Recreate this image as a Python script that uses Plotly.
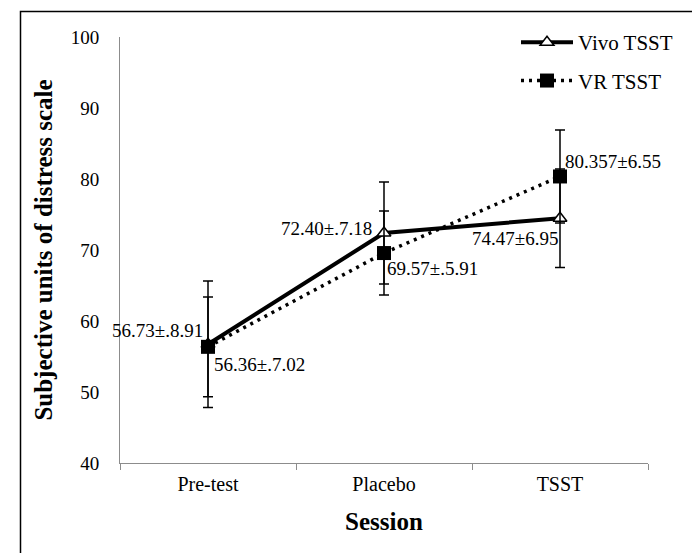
import plotly.graph_objects as go

# ---- data ----
sessions = ["Pre-test", "Placebo", "TSST"]
vivo_mean = [56.73, 72.40, 74.47]
vivo_sd = [8.91, 7.18, 6.95]
vr_mean = [56.36, 69.57, 80.357]
vr_sd = [7.02, 5.91, 6.55]
vivo_labels = ["56.73±.8.91", "72.40±.7.18", "74.47±6.95"]
vr_labels = ["56.36±.7.02", "69.57±.5.91", "80.357±6.55"]
y_ticks = [40, 50, 60, 70, 80, 90, 100]

# ---- label placement (style) ----
vivo_place = [("right", -3, 14), ("right", -10, 4), ("right", 0, -20)]
vr_place = [("left", 4, -18), ("left", 1, -15), ("left", 3, 15)]

W, H = 700, 553
ML, MR, MT, MB = 112, 60, 29, 98
FONT = "Liberation Serif"

fig = go.Figure()
fig.add_trace(go.Scatter(
    x=sessions, y=vivo_mean, name="Vivo TSST", mode="lines+markers",
    legendgroup="a",
    line=dict(color="black", width=4),
    marker=dict(symbol="triangle-up", size=12, color="white",
                line=dict(color="black", width=1.5)),
    error_y=dict(type="data", array=vivo_sd, visible=True, color="black",
                 thickness=1.5, width=5),
))
fig.add_trace(go.Scatter(
    x=sessions, y=vr_mean, name="VR TSST", mode="lines+markers",
    legendgroup="b",
    line=dict(color="black", width=3.5, dash="3px,5px"),
    marker=dict(symbol="square", size=14, color="black"),
    error_y=dict(type="data", array=vr_sd, visible=True, color="black",
                 thickness=1.5, width=5),
))

for xs, ys, labs, places in [(sessions, vivo_mean, vivo_labels, vivo_place),
                             (sessions, vr_mean, vr_labels, vr_place)]:
    for xv, yv, lab, (anc, dx, dy) in zip(xs, ys, labs, places):
        fig.add_annotation(x=xv, y=yv, xref="x", yref="y", text=lab,
                           showarrow=False, xanchor=anc, yanchor="middle",
                           xshift=dx, yshift=dy,
                           font=dict(family=FONT, size=19, color="black"))

pw = W - ML - MR
ph = H - MT - MB
def px_x(p):
    return (p - ML) / pw
def px_y(p):
    return (H - MB - p) / ph

fig.add_shape(type="rect", xref="paper", yref="paper",
              x0=px_x(12.5), x1=px_x(698.5), y0=px_y(549.5), y1=px_y(3.5),
              line=dict(color="black", width=1.5), fillcolor="rgba(0,0,0,0)")

fig.update_layout(
    width=W, height=H,
    margin=dict(l=ML, r=MR, t=MT, b=MB),
    paper_bgcolor="white", plot_bgcolor="white",
    font=dict(family=FONT, color="black", size=19),
    showlegend=True,
    legend=dict(x=0.75, y=1.035, xanchor="left", yanchor="top",
                bgcolor="rgba(0,0,0,0)", tracegroupgap=8, itemwidth=52,
                font=dict(family=FONT, size=21, color="black")),
    xaxis=dict(
        type="category", range=[-0.5, 2.5],
        showline=True, linecolor="#8c8c8c", linewidth=1,
        showgrid=False, zeroline=False,
        ticks="outside", tickson="boundaries", ticklen=6, tickcolor="#8c8c8c",
        ticklabelstandoff=3,
        tickfont=dict(family=FONT, size=20, color="black"),
        title=dict(text="<b>Session</b>", standoff=18,
                   font=dict(family=FONT, size=25, color="black")),
    ),
    yaxis=dict(
        range=[40, 100], tickvals=y_ticks,
        showline=True, linecolor="#8c8c8c", linewidth=1,
        showgrid=False, zeroline=False, ticks="",
        ticklabelstandoff=16,
        tickfont=dict(family=FONT, size=19, color="black"),
        title=dict(text="<b>Subjective units of distress scale</b>", standoff=10,
                   font=dict(family=FONT, size=25, color="black")),
    ),
)

fig.write_html("out.html")
